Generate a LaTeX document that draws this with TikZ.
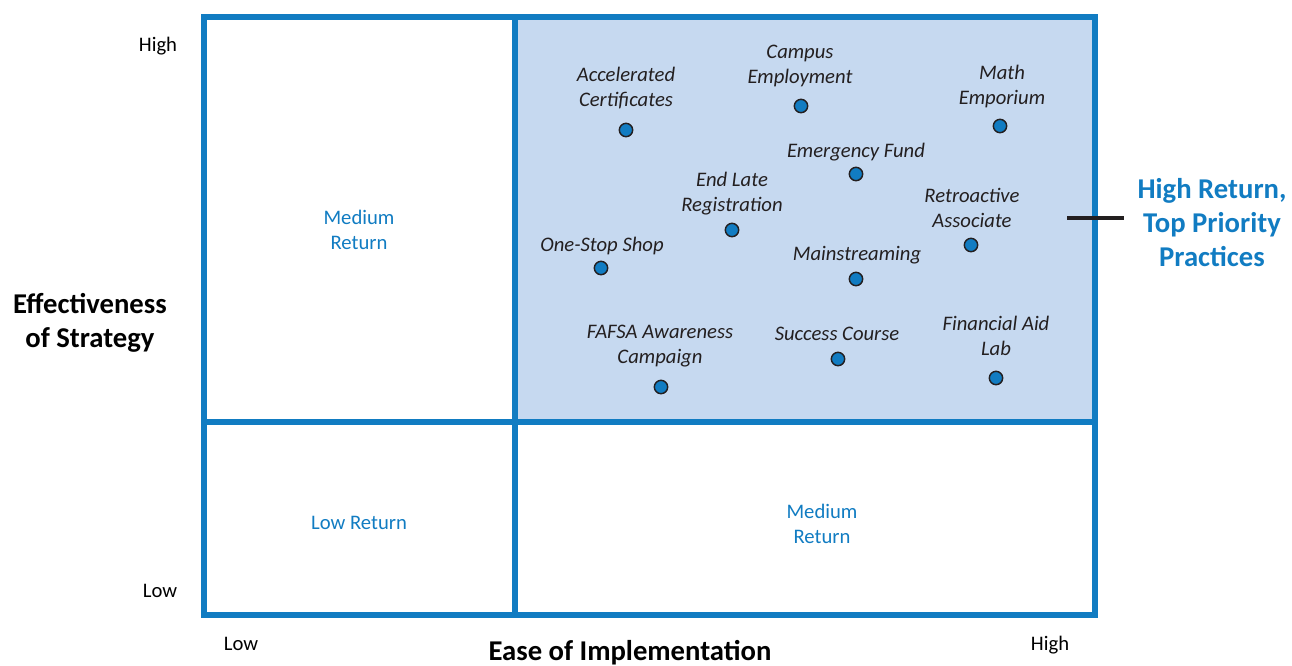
\documentclass[tikz,border=0pt]{standalone}
\usepackage{fontspec}
\setmainfont{Carlito}
\definecolor{qblue}{RGB}{17,124,194}
\definecolor{qfill}{RGB}{198,217,240}
\definecolor{qtext}{RGB}{35,31,32}
\begin{document}
\begin{tikzpicture}[x=0.75pt,y=-0.75pt,
  frame/.style={draw=qblue,line width=4.5pt},
  dot/.style={circle,draw=qtext,fill=qblue,line width=1.1pt,minimum size=10pt,inner sep=0pt},
  lbl/.style={align=center,inner sep=0pt,text=qtext,font=\fontsize{15.5}{18.75}\selectfont\itshape},
  zone/.style={align=center,inner sep=0pt,text=qblue,font=\fontsize{15.5}{18.75}\selectfont},
  axis/.style={align=center,inner sep=0pt,text=black,font=\fontsize{15.5}{18.75}\selectfont},
  big/.style={align=center,inner sep=0pt,font=\fontsize{21.5}{25.5}\selectfont\bfseries}]
\useasboundingbox (0,0) rectangle (1292,665);
\fill[qfill] (515,17) rectangle (1095,422);
\draw[frame] (204,17) rectangle (1095,615);
\draw[frame] (515,17) -- (515,615);
\draw[frame] (204,422) -- (1095,422);
% dots and labels
\node[dot] (d1) at (626,130) {};
\node[lbl] (t1) at (626,88) {Accelerated\\Certificates};
\node[dot] (d2) at (801,106) {};
\node[lbl] (t2) at (800,66) {Campus\\Employment};
\node[dot] (d3) at (1000,126) {};
\node[lbl] (t3) at (1002,86.5) {Math\\Emporium};
\node[dot] (d4) at (856,174) {};
\node[lbl] (t4) at (856,152.5) {Emergency Fund};
\node[dot] (d5) at (732,230) {};
\node[lbl] (t5) at (732,194) {End Late\\Registration};
\node[dot] (d6) at (971,245) {};
\node[lbl] (t6) at (972,207.5) {Retroactive\\Associate};
\node[dot] (d7) at (601,268) {};
\node[lbl] (t7) at (602,245.5) {One-Stop Shop};
\node[dot] (d8) at (856,279) {};
\node[lbl] (t8) at (857,255.5) {Mainstreaming};
\node[dot] (d9) at (661,387) {};
\node[lbl] (t9) at (660,346.5) {FAFSA Awareness\\Campaign};
\node[dot] (d10) at (838,359) {};
\node[lbl] (t10) at (837,333.5) {Success Course};
\node[dot] (d11) at (996,378) {};
\node[lbl] (t11) at (996,335.5) {Financial Aid\\Lab};
% zone labels
\node[zone] (z1) at (359,229.5) {Medium\\Return};
\node[zone] (z2) at (359,523) {Low Return};
\node[zone] (z3) at (822,523.5) {Medium\\Return};
% axes
\node[axis] (yh) at (158,46.5) {High};
\node[axis] (yl) at (160,591) {Low};
\node[axis] (xl) at (241,644) {Low};
\node[axis] (xh) at (1050,645) {High};
\node[big] (ylab) at (90,323) {Effectiveness\\of Strategy};
\node[big] (xlab) at (630,652.5) {Ease of Implementation};
\node[big,text=qblue] (hr) at (1212,222.5) {High Return,\\Top Priority\\Practices};
\coordinate (ls) at (1067,218);
\coordinate (le) at (1124,218);
\draw[line width=2.3pt,qtext] (ls) -- (le);
\end{tikzpicture}
\end{document}
